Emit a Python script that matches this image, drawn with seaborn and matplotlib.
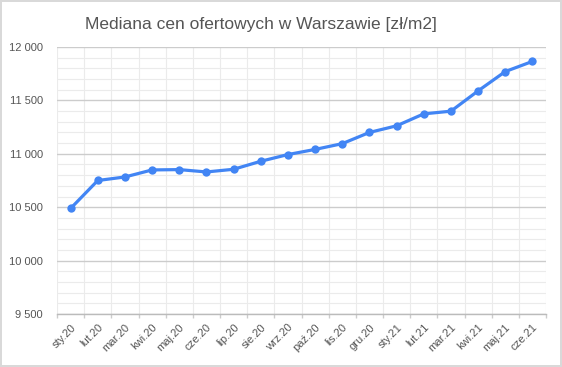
import matplotlib
matplotlib.use("Agg")
import matplotlib.pyplot as plt
import numpy as np
import pandas as pd
import seaborn as sns
from matplotlib.ticker import FixedLocator, MultipleLocator, FuncFormatter

months = ["sty.20", "lut.20", "mar.20", "kwi.20", "maj.20", "cze.20",
          "lip.20", "sie.20", "wrz.20", "paź.20", "lis.20", "gru.20",
          "sty.21", "lut.21", "mar.21", "kwi.21", "maj.21", "cze.21"]
median_price = [10488, 10750, 10783, 10849, 10852, 10830,
                10855, 10930, 10993, 11041, 11095, 11200,
                11262, 11374, 11399, 11589, 11770, 11865]

sns.set_theme(style="white")
plt.rcParams["font.family"] = ["Liberation Sans", "DejaVu Sans"]

df = pd.DataFrame({"pos": np.arange(len(months)), "value": median_price})

fig = plt.figure(figsize=(5.62, 3.67), dpi=100, edgecolor="#d9d9d9", linewidth=1.5)
ax = fig.add_axes([57 / 562, 1 - 314 / 367, (546 - 57) / 562, (314 - 47) / 367])

sns.lineplot(data=df, x="pos", y="value", ax=ax, color="#4285f4", linewidth=2.3,
             marker="o", markersize=6, markeredgewidth=0, zorder=3)

ax.set_xlim(-0.5, len(months) - 0.5)
ax.set_ylim(9500, 12000)

# y axis: major every 500, minor every 100
ax.yaxis.set_major_locator(MultipleLocator(500))
ax.yaxis.set_minor_locator(MultipleLocator(100))
ax.yaxis.set_major_formatter(FuncFormatter(lambda v, _: f"{int(v):,}".replace(",", " ")))
ax.grid(which="major", axis="y", color="#cccccc", linewidth=1)
ax.grid(which="minor", axis="y", color="#ebebeb", linewidth=0.8)

# x axis: labels at centres, ticks/grid at boundaries
ax.set_xticks(df["pos"])
ax.set_xticklabels(months, rotation=45, ha="right", rotation_mode="anchor")
ax.xaxis.set_minor_locator(FixedLocator(np.arange(-0.5, len(months), 1.0)))
ax.grid(which="minor", axis="x", color="#ebebeb", linewidth=0.8)
ax.tick_params(axis="x", which="major", length=0, pad=6, labelsize=8, labelcolor="#555555")
ax.tick_params(axis="x", which="minor", length=3, color="#cccccc", width=1, bottom=True)
ax.tick_params(axis="y", which="both", length=0, pad=10, labelsize=8, labelcolor="#555555")
ax.set_axisbelow(True)

ax.set_xlabel("")
ax.set_ylabel("")
for side in ["top", "right", "left"]:
    ax.spines[side].set_visible(False)
ax.spines["bottom"].set_color("#bbbbbb")
ax.spines["bottom"].set_linewidth(1)

fig.text(261 / 562, 1 - 24 / 367, "Mediana cen ofertowych w Warszawie [zł/m2]",
         ha="center", va="center", fontsize=12.5, color="#555555")

fig.savefig("out.png", dpi=100, edgecolor=fig.get_edgecolor())
